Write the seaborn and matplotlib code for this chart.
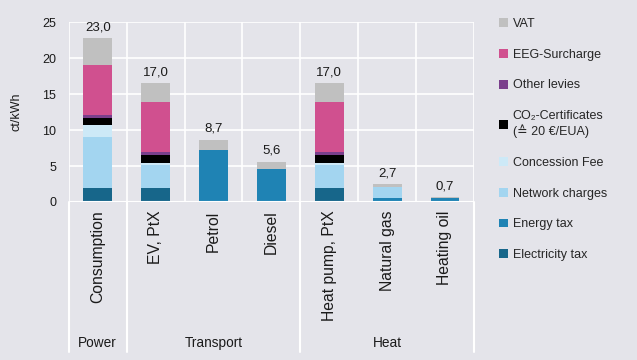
import pandas as pd
import seaborn as sns
import matplotlib.pyplot as plt
from matplotlib.patches import Patch
import matplotlib.transforms as mtransforms

# data (ct/kWh)
categories = ['Consumption', 'EV, PtX', 'Petrol', 'Diesel', 'Heat pump, PtX', 'Natural gas', 'Heating oil']
group_names = ['Power', 'Transport', 'Heat']
group_sizes = [1, 3, 3]
electricity_tax = [1.96, 1.96, 0, 0, 1.96, 0, 0]
energy_tax = [0, 0, 7.27, 4.62, 0, 0.55, 0.56]
network_charges = [7.13, 3.22, 0, 0, 3.22, 1.54, 0]
concession_fee = [1.68, 0.30, 0, 0, 0.30, 0, 0]
co2_certificates = [0.98, 1.12, 0, 0, 1.12, 0, 0]
other_levies = [0.42, 0.42, 0, 0, 0.42, 0, 0]
eeg_surcharge = [6.85, 6.85, 0, 0, 6.85, 0, 0]
vat = [3.73, 2.70, 1.40, 0.98, 2.70, 0.42, 0.14]
total_labels = ['23,0', '17,0', '8,7', '5,6', '17,0', '2,7', '0,7']

# bottom to top
components = [
    ('Electricity tax', electricity_tax, '#17668a'),
    ('Energy tax', energy_tax, '#1f83b4'),
    ('Network charges', network_charges, '#a3d5f0'),
    ('Concession Fee', concession_fee, '#cde9f7'),
    ('CO\u2082-Certificates\n(\u2259 20 \u20ac/EUA)', co2_certificates, '#000000'),
    ('Other levies', other_levies, '#7a3f8c'),
    ('EEG-Surcharge', eeg_surcharge, '#d0508f'),
    ('VAT', vat, '#c0c0c0'),
]

df = pd.DataFrame({'category': categories})
running = [0.0] * len(categories)
for name, vals, col in components:
    running = [r + v for r, v in zip(running, vals)]
    df[name] = running

bg = '#e4e4ea'
sns.set_theme(style='darkgrid', rc={'axes.facecolor': bg, 'figure.facecolor': bg,
                                    'grid.color': 'white', 'grid.linewidth': 1.2})
plt.rcParams['font.family'] = ['Liberation Sans', 'DejaVu Sans']

fig = plt.figure(figsize=(6.37, 3.6), dpi=100)
ax = fig.add_axes([0.108, 0.439, 0.636, 0.499])

# stacked bars: draw cumulative heights from the top layer down
for name, vals, col in reversed(components):
    sns.barplot(data=df, x='category', y=name, color=col, width=0.5,
                saturation=1, linewidth=0, edgecolor='none', ax=ax, zorder=3)

totals = df[components[-1][0]].tolist()
for i, (t, lab) in enumerate(zip(totals, total_labels)):
    ax.annotate(lab, (i, t), xytext=(0, 3.5), textcoords='offset points',
                ha='center', va='bottom', fontsize=9.5, color='#1a1a1a')

ax.set_ylim(0, 25)
ax.set_yticks(range(0, 26, 5))
ax.set_xlim(-0.5, len(categories) - 0.5)
ax.set_xticks(range(len(categories)))
ax.set_xticks([i - 0.5 for i in range(len(categories) + 1)], minor=True)
ax.grid(False, axis='x', which='major')
ax.grid(True, axis='x', which='minor', color='white', linewidth=1.2)
ax.set_xticklabels(categories, rotation=90, fontsize=11.3, color='#1a1a1a')
ax.tick_params(axis='x', which='both', length=0, pad=6)
ax.tick_params(axis='y', length=0, pad=9, labelsize=9, colors='#1a1a1a')
ax.set_xlabel('')
ax.set_ylabel('ct/kWh', fontsize=9, color='#1a1a1a', labelpad=14)
for s in ax.spines.values():
    s.set_visible(False)
ax.axhline(0, color='white', linewidth=1.5, zorder=4)

# group separators and labels below the axis
trans = mtransforms.blended_transform_factory(ax.transData, ax.transAxes)
edges = [-0.5]
for n in group_sizes:
    edges.append(edges[-1] + n)
for e in edges:
    ax.plot([e, e], [0, -0.835], transform=trans, color='white', linewidth=1.5, clip_on=False)
for name, a, b in zip(group_names, edges[:-1], edges[1:]):
    ax.text((a + b) / 2, -0.785, name, transform=trans, ha='center', va='center',
            fontsize=9.8, color='#1a1a1a')

handles = [Patch(facecolor=col, edgecolor='none', label=name) for name, vals, col in reversed(components)]
fig.legend(handles=handles, loc='upper left', bbox_to_anchor=(0.784, 0.95), frameon=False,
           fontsize=9, handlelength=0.7, handleheight=0.7, handletextpad=0.35,
           labelspacing=1.5, borderpad=0, borderaxespad=0)

fig.savefig('out.png', dpi=100, facecolor=bg)
